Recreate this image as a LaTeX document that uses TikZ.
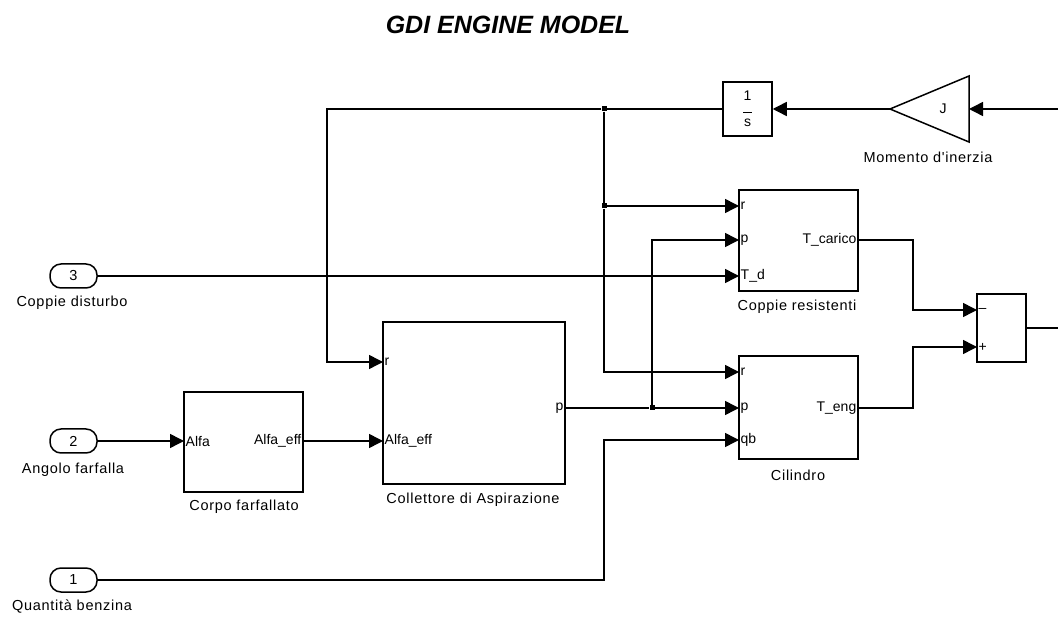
\documentclass[tikz,border=0pt]{standalone}
\usepackage{fontspec}
\usetikzlibrary{arrows.meta,calc,positioning}
\newfontfamily\blkfont{Liberation Sans}
\newfontfamily\namefont[LetterSpace=5]{Liberation Sans}
\newfontfamily\ttlfont{Liberation Sans}

\begin{document}
\begin{tikzpicture}[x=1pt,y=-1pt,
  blk/.style={draw, line width=1.5pt, fill=white, inner sep=0pt},
  inport/.style={draw, line width=1.5pt, rounded corners=11pt, minimum width=47pt, minimum height=24pt, inner sep=0pt, font=\blkfont\fontsize{14.5}{16}\selectfont},
  plab/.style={inner sep=1.5pt, font=\blkfont\fontsize{14}{16}\selectfont},
  bname/.style={inner sep=0pt, font=\namefont\fontsize{14.5}{16}\selectfont},
  wire/.style={line width=1.5pt},
  sig/.style={line width=1.5pt, -{Triangle[length=14pt,width=14pt]}},
  jdot/.style={rectangle, fill, minimum size=5pt, inner sep=0pt}]
\useasboundingbox (0,0) rectangle (1058,617);
\node[font=\ttlfont\bfseries\itshape\fontsize{25}{28}\selectfont] (title) at (508,25) {GDI ENGINE MODEL};
% inports
\node[inport] (in3) at (73.5,276) {3};
\node[bname] (in3-name) at (72,303) {Coppie disturbo};
\node[inport] (in2) at (73.5,441) {2};
\node[bname] (in2-name) at (73,470) {Angolo farfalla};
\node[inport] (in1) at (73.5,580) {1};
\node[bname] (in1-name) at (72,607) {Quantità benzina};
% blocks
\node[blk, minimum width=119pt, minimum height=100pt] (corpo) at (243.5,442) {};
\node[plab, anchor=west] (corpo-in) at (184,441) {Alfa};
\node[plab, anchor=east] (corpo-out) at (303,441) {Alfa\_eff};
\node[bname] (corpo-name) at (244,507) {Corpo farfallato};
\node[blk, minimum width=182pt, minimum height=162pt] (coll) at (474,403) {};
\node[plab, anchor=west] (coll-r) at (383,362) {r};
\node[plab, anchor=west] (coll-alfa) at (383,441) {Alfa\_eff};
\node[plab, anchor=east] (coll-p) at (565,408) {p};
\node[bname] (coll-name) at (473,500) {Collettore di Aspirazione};
\node[blk, minimum width=119pt, minimum height=101pt] (coppie) at (798.5,240.5) {};
\node[plab, anchor=west] (coppie-r) at (739,206) {r};
\node[plab, anchor=west] (coppie-p) at (739,240) {p};
\node[plab, anchor=west] (coppie-Td) at (739,276) {T\_d};
\node[plab, anchor=east] (coppie-out) at (858,240) {T\_carico};
\node[bname] (coppie-name) at (797,307) {Coppie resistenti};
\node[blk, minimum width=119pt, minimum height=103pt] (cil) at (798.5,407.5) {};
\node[plab, anchor=west] (cil-r) at (739,372) {r};
\node[plab, anchor=west] (cil-p) at (739,408) {p};
\node[plab, anchor=west] (cil-qb) at (739,440) {qb};
\node[plab, anchor=east] (cil-out) at (858,408) {T\_eng};
\node[bname] (cil-name) at (798,475) {Cilindro};
\node[blk, minimum width=49pt, minimum height=68pt] (sum) at (1001.5,328) {};
\node[plab, anchor=west] (sum-m) at (977,310) {–};
\node[plab, anchor=west] (sum-p) at (977,347) {+};
\node[blk, minimum width=49pt, minimum height=54pt, align=center, font=\blkfont\fontsize{14}{16}\selectfont] (int) at (747.5,109) {1\\[-4pt]\rule{9pt}{0.9pt}\\[-2pt]s};
% gain
\draw[wire] (969,76) -- (890,109) -- (969,142) -- cycle;
\node[plab] (gain) at (943,109) {J};
\node[bname] (gain-name) at (928,157) {Momento d'inerzia};
\coordinate (gain-in) at (969,109);
\coordinate (gain-out) at (890,109);
\coordinate (gain-src) at (1058,109);
% junctions and bends
\node[jdot] (jtop) at (604,109) {};
\node[jdot] (jmid) at (604,206) {};
\node[jdot] (jp) at (652,408) {};
\coordinate (fb-turn) at (327,109);
\coordinate (qb-turn) at (604,580);
\coordinate (tc-turn) at (913,240);
\coordinate (te-turn) at (913,408);
\coordinate (sum-dst) at (1058,328);
% signals
\draw[sig] (gain-src) -- (gain-in);
\draw[sig] (gain-out) -- (int.east);
\draw[wire] (int.west) -- (jtop);
\draw[sig] (jtop) -- (fb-turn) |- (coll-r.west);
\draw[wire] (jtop) -- (jmid);
\draw[sig] (jmid) -- (coppie-r.west);
\draw[sig] (jmid) |- (cil-r.west);
\draw[sig] (in3.east) -- (coppie-Td.west);
\draw[sig] (in2.east) -- (corpo-in.west);
\draw[sig] (corpo-out.east) -- (coll-alfa.west);
\draw[wire] (coll-p.east) -- (jp);
\draw[sig] (jp) -- (cil-p.west);
\draw[sig] (jp) |- (coppie-p.west);
\draw[sig] (in1.east) -- (qb-turn) |- (cil-qb.west);
\draw[sig] (coppie-out.east) -- (tc-turn) |- (sum-m.west);
\draw[sig] (cil-out.east) -- (te-turn) |- (sum-p.west);
\draw[wire] (sum.east) -- (sum-dst);
\end{tikzpicture}
\end{document}
